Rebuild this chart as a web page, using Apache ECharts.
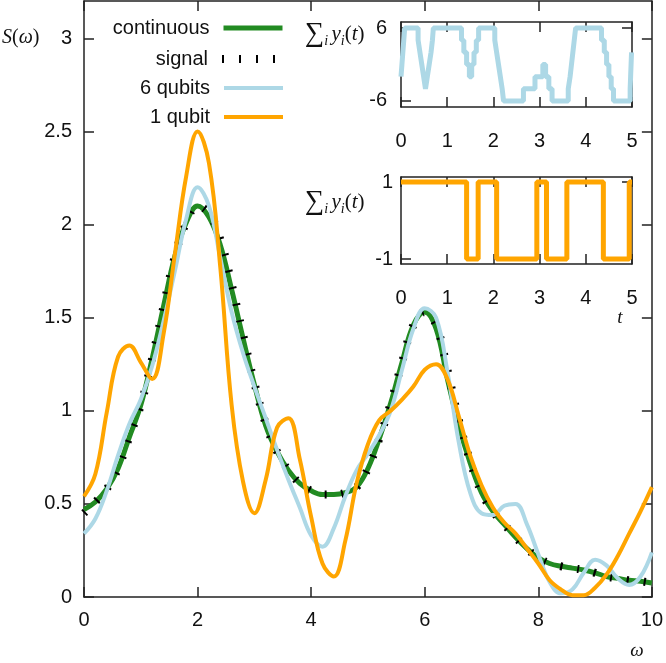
<!DOCTYPE html>
<html><head><meta charset="utf-8">
<script src="https://cdn.jsdelivr.net/npm/echarts@6/dist/echarts.min.js"></script>
<style>html,body{margin:0;padding:0;background:#fff}#c{width:666px;height:663px}</style>
</head><body><div id="c"></div>
<script>
// ---- main panel data ----
const omega = [0,0.2,0.4,0.6,0.8,1.0,1.2,1.4,1.6,1.8,2.0,2.2,2.4,2.6,2.8,3.0,3.2,3.4,3.6,3.8,4.0,4.2,4.4,4.6,4.8,5.0,5.2,5.4,5.6,5.8,6.0,6.2,6.4,6.6,6.8,7.0,7.2,7.4,7.6,7.8,8.0,8.2,8.4,8.6,8.8,9.0,9.2,9.4,9.6,9.8,10.0];
const continuous = [0.47,0.51,0.58,0.69,0.86,1.03,1.28,1.56,1.83,2.01,2.10,2.04,1.89,1.65,1.39,1.14,0.92,0.78,0.68,0.61,0.57,0.55,0.55,0.56,0.59,0.69,0.85,1.04,1.26,1.46,1.53,1.44,1.17,0.92,0.72,0.56,0.46,0.39,0.32,0.26,0.21,0.18,0.165,0.155,0.145,0.13,0.11,0.10,0.09,0.085,0.075];
const signal = [0.45,0.51,0.58,0.69,0.86,1.03,1.28,1.56,1.83,2.01,2.10,2.06,1.92,1.68,1.41,1.15,0.93,0.78,0.68,0.61,0.57,0.55,0.55,0.56,0.59,0.69,0.85,1.04,1.26,1.46,1.53,1.46,1.22,0.95,0.73,0.56,0.46,0.39,0.32,0.26,0.21,0.18,0.165,0.155,0.145,0.13,0.11,0.10,0.09,0.085,0.075];
const qubits6 = [0.34,0.42,0.57,0.76,0.93,1.06,1.24,1.48,1.75,2.03,2.20,2.10,1.82,1.53,1.31,1.13,0.96,0.79,0.63,0.48,0.33,0.27,0.37,0.54,0.68,0.77,0.87,1.00,1.22,1.44,1.55,1.50,1.21,0.83,0.56,0.45,0.44,0.49,0.50,0.39,0.23,0.08,0.02,0.04,0.13,0.20,0.17,0.10,0.065,0.11,0.24];
const qubit1 = [0.54,0.66,0.99,1.29,1.35,1.26,1.17,1.41,1.84,2.26,2.50,2.33,1.77,1.03,0.62,0.45,0.63,0.91,0.96,0.74,0.43,0.18,0.11,0.30,0.61,0.82,0.95,1.00,1.06,1.13,1.22,1.25,1.17,0.97,0.76,0.60,0.48,0.40,0.34,0.26,0.18,0.09,0.04,0.01,0.01,0.05,0.12,0.22,0.34,0.46,0.59];
const seriesNames = ['continuous','signal','6 qubits','1 qubit'];
const xTicks = [0,2,4,6,8,10];
const yTicks = [0,0.5,1,1.5,2,2.5,3];
// ---- inset data ----
const t6 = [0,0.02,0.04,0.06,0.08,0.37,0.41,0.45,0.49,0.53,0.57,0.61,0.65,0.68,0.70,1.31,1.36,1.42,1.48,1.53,1.58,1.63,1.68,2.03,2.07,2.11,2.15,2.19,2.22,2.65,2.90,3.07,3.13,3.20,3.27,3.62,3.66,3.69,3.72,3.75,3.78,4.34,4.40,4.45,4.50,4.55,4.60,4.96,4.97,4.98,4.99,5.0];
const sum6 = [-2,0,2,4,6,4,2,0,-2,-4,-2,0,2,4,6,4,2,0,-2,0,2,4,6,4,2,0,-2,-4,-6,-4,-2,0,-2,-4,-6,-4,-2,0,2,4,6,4,2,0,-2,-4,-6,-4,-2,0,2,2];
const t1 = [0,1.42,1.67,2.07,2.94,3.15,3.59,4.38,4.94,5.0];
const sum1 = [1,-1,1,-1,1,-1,1,-1,1,1];
const insetXTicks = [0,1,2,3,4,5];
const inset6YTicks = [-6,6];
const inset1YTicks = [-1,1];

const FONT = 'Liberation Sans';
const SERIF = 'Liberation Serif';
const AX = '#222';
const colors = {green:'#228B22', blue:'#ADD8E6', orange:'#FFA500', black:'#000'};

function axis(kind, grid, pos, min, max, ticks, showLabel, margin) {
  return {
    type: 'value', gridIndex: grid, position: pos, min: min, max: max,
    axisLine: {show: true, onZero: false, lineStyle: {color: AX, width: 1.5}},
    axisTick: {show: true, inside: true, length: 10, customValues: ticks, lineStyle: {color: AX, width: 1.5}},
    axisLabel: {show: showLabel, customValues: ticks, margin: margin, fontSize: 20, fontFamily: FONT, color: '#111'},
    splitLine: {show: false}
  };
}

const chart = echarts.init(document.getElementById('c'), null, {renderer: 'canvas'});
const pairs = (xs, ys) => xs.map((x, i) => [x, ys[i]]);

const legendTops = [18, 49, 78, 107];
const legendLine = [
  {color: colors.green, width: 5, type: 'solid'},
  {color: colors.black, width: 8, type: [2, 15]},
  {color: colors.blue, width: 4, type: 'solid'},
  {color: colors.orange, width: 4, type: 'solid'}
];

const sumRich = {
  s: {fontSize: 27, fontFamily: SERIF, lineHeight: 28},
  sub: {fontSize: 14, fontFamily: SERIF, fontStyle: 'italic', lineHeight: 14, verticalAlign: 'bottom'},
  y: {fontSize: 21, fontFamily: SERIF, fontStyle: 'italic', lineHeight: 28},
  n: {fontSize: 21, fontFamily: SERIF, lineHeight: 28},
  ni: {fontSize: 21, fontFamily: SERIF, fontStyle: 'italic', lineHeight: 28}
};
const sumText = '{s|∑}{sub|i} {y|y}{sub|i}{n|(}{ni|t}{n|)}';

chart.setOption({
  animation: false,
  backgroundColor: '#fff',
  grid: [
    {left: 84, right: 14, top: 1, bottom: 66},
    {left: 401, width: 231, top: 22, height: 85},
    {left: 401, width: 231, top: 177, height: 87}
  ],
  xAxis: [
    axis('x', 0, 'bottom', 0, 10, xTicks, true, 13),
    axis('x', 0, 'top', 0, 10, xTicks, false, 0),
    axis('x', 1, 'bottom', 0, 5, insetXTicks, true, 24),
    axis('x', 1, 'top', 0, 5, insetXTicks, false, 0),
    axis('x', 2, 'bottom', 0, 5, insetXTicks, true, 24),
    axis('x', 2, 'top', 0, 5, insetXTicks, false, 0)
  ],
  yAxis: [
    axis('y', 0, 'left', 0, 3.2, yTicks, true, 12),
    axis('y', 0, 'right', 0, 3.2, yTicks, false, 0),
    axis('y', 1, 'left', -7, 7, inset6YTicks, true, 14),
    axis('y', 1, 'right', -7, 7, inset6YTicks, false, 0),
    axis('y', 2, 'left', -1.13, 1.13, inset1YTicks, true, 8),
    axis('y', 2, 'right', -1.13, 1.13, inset1YTicks, false, 0)
  ],
  legend: seriesNames.map((n, i) => ({
    data: [n], right: 381, top: legendTops[i], orient: 'horizontal', align: 'right',
    itemWidth: 59, itemHeight: 1, padding: 0, selectedMode: false,
    textStyle: {fontSize: 20, fontFamily: FONT, color: '#111', padding: [0, 9, 0, 0]},
    lineStyle: legendLine[i],
    itemStyle: {color: 'rgba(0,0,0,0)', borderColor: 'rgba(0,0,0,0)', borderWidth: 0, opacity: 0}
  })),
  series: [
    {name: 'continuous', type: 'line', xAxisIndex: 0, yAxisIndex: 0, data: pairs(omega, continuous), smooth: 0.4, symbol: 'none',
     lineStyle: {color: colors.green, width: 5}, itemStyle: {color: colors.green}, z: 2},
    {name: 'signal', type: 'line', xAxisIndex: 0, yAxisIndex: 0, data: pairs(omega, signal), smooth: 0.4, symbol: 'none',
     lineStyle: {color: colors.black, width: 8, type: [2, 15]}, itemStyle: {color: colors.black}, z: 3},
    {name: '6 qubits', type: 'line', xAxisIndex: 0, yAxisIndex: 0, data: pairs(omega, qubits6), smooth: 0.4, symbol: 'none',
     lineStyle: {color: colors.blue, width: 4}, itemStyle: {color: colors.blue}, z: 4},
    {name: '1 qubit', type: 'line', xAxisIndex: 0, yAxisIndex: 0, data: pairs(omega, qubit1), smooth: 0.4, symbol: 'none',
     lineStyle: {color: colors.orange, width: 4}, itemStyle: {color: colors.orange}, z: 5},
    {name: 'sum6', type: 'line', xAxisIndex: 2, yAxisIndex: 2, data: pairs(t6, sum6), step: 'end', symbol: 'none',
     lineStyle: {color: colors.blue, width: 5}, itemStyle: {color: colors.blue}},
    {name: 'sum1', type: 'line', xAxisIndex: 4, yAxisIndex: 4, data: pairs(t1, sum1), step: 'end', symbol: 'none',
     lineStyle: {color: colors.orange, width: 5}, itemStyle: {color: colors.orange}}
  ],
  graphic: [
    {type: 'text', x: 2, y: 38, style: {text: '{i|S}{n|(}{i|ω}{n|)}', verticalAlign: 'middle', fill: '#111',
      rich: {i: {fontSize: 20, fontFamily: SERIF, fontStyle: 'italic'}, n: {fontSize: 20, fontFamily: SERIF}}}},
    {type: 'text', x: 637, y: 651, style: {text: 'ω', font: 'italic 19px "Liberation Serif"', fill: '#111', align: 'center', verticalAlign: 'middle'}},
    {type: 'text', x: 620, y: 318, style: {text: 't', font: 'italic 19px "Liberation Serif"', fill: '#111', align: 'center', verticalAlign: 'middle'}},
    {type: 'text', x: 305, y: 34, style: {text: sumText, rich: sumRich, fill: '#111', verticalAlign: 'middle'}},
    {type: 'text', x: 305, y: 202, style: {text: sumText, rich: sumRich, fill: '#111', verticalAlign: 'middle'}}
  ]
});
</script></body></html>
